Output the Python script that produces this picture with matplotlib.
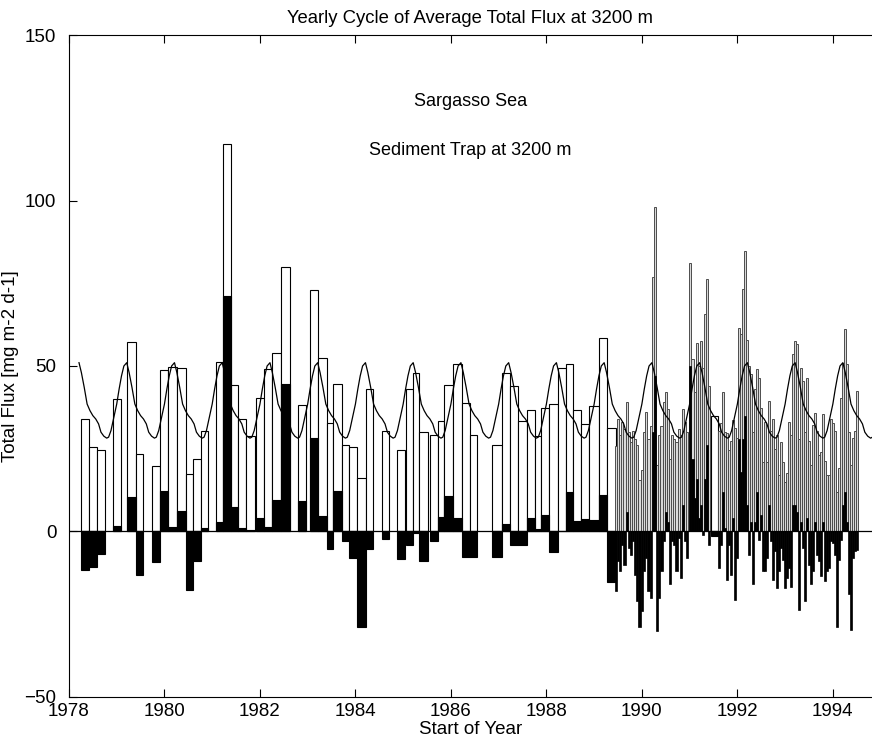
import matplotlib
matplotlib.use('Agg')
import matplotlib.pyplot as plt
import numpy as np

OUT_PNG = 'out.png'

#
# Two-month trap samples (open / close as decimal years), total flux and
# anomaly from the average yearly cycle, in mg m-2 d-1
#

long_open = [1978.245, 1978.419, 1978.580, 1978.915, 1979.208, 1979.403, 1979.744, 1979.906,
             1980.067, 1980.255, 1980.444, 1980.590, 1980.764, 1981.072, 1981.231, 1981.393,
             1981.546, 1981.707, 1981.910, 1982.084, 1982.258, 1982.433, 1982.802, 1983.047,
             1983.208, 1983.395, 1983.535, 1983.723, 1983.870, 1984.037, 1984.226, 1984.549,
             1984.862, 1985.051, 1985.210, 1985.330, 1985.560, 1985.722, 1985.853, 1986.048,
             1986.237, 1986.398, 1986.865, 1987.062, 1987.236, 1987.395, 1987.584, 1987.759,
             1987.878, 1988.058, 1988.233, 1988.401, 1988.560, 1988.721, 1988.896, 1989.099,
             1989.273, 1991.445]
long_close = [1978.419, 1978.580, 1978.754, 1979.089, 1979.403, 1979.556, 1979.906, 1980.067,
              1980.255, 1980.444, 1980.590, 1980.764, 1980.917, 1981.231, 1981.393, 1981.546,
              1981.707, 1981.895, 1982.084, 1982.258, 1982.433, 1982.628, 1982.955, 1983.208,
              1983.395, 1983.535, 1983.723, 1983.870, 1984.037, 1984.214, 1984.373, 1984.708,
              1985.036, 1985.210, 1985.330, 1985.525, 1985.722, 1985.853, 1986.035, 1986.237,
              1986.398, 1986.551, 1987.062, 1987.236, 1987.395, 1987.584, 1987.759, 1987.878,
              1988.058, 1988.233, 1988.401, 1988.560, 1988.721, 1988.896, 1989.099, 1989.273,
              1989.449, 1991.592]
long_flux = [34.1, 25.5, 24.5, 39.9, 57.2, 23.5, 19.9, 48.7,
             49.7, 49.5, 17.4, 22.0, 30.5, 51.3, 117.0, 44.4,
             34.0, 28.8, 40.4, 49.2, 54.0, 80.0, 38.2, 73.0,
             52.5, 32.7, 44.7, 26.0, 25.6, 16.2, 42.9, 30.5,
             24.7, 43.1, 48.0, 30.0, 29.0, 33.3, 44.2, 50.7,
             38.8, 29.3, 26.0, 48.0, 43.9, 33.5, 36.6, 28.8,
             37.4, 38.4, 49.5, 50.5, 36.6, 32.5, 37.8, 58.4,
             31.3, 34.8]
long_anomaly = [-11.6, -10.8, -6.8, 1.8, 10.3, -13.1, -9.3, 12.3,
                1.3, 6.1, -17.7, -8.8, 1.2, 3.0, 71.0, 7.3,
                1.0, 0.4, 4.2, 1.4, 9.5, 44.6, 9.1, 28.1,
                4.7, -5.3, 12.1, -3.0, -7.9, -28.8, -5.4, -2.2,
                -8.4, -4.0, -0.5, -8.8, -2.8, 4.5, 10.6, 4.0,
                -7.8, -7.6, -7.8, 2.2, -4.2, -4.2, 4.2, 0.7,
                5.1, -6.1, 0.2, 11.9, 3.2, 3.7, 3.5, 11.0,
                -15.2, -1.5]

#
# Short (~2 week) samples from mid 1989 on, centre of sample as decimal year
#

short_time = [1989.455, 1989.500, 1989.545, 1989.590, 1989.635, 1989.680, 1989.725, 1989.770,
              1989.815, 1989.860, 1989.905, 1989.950, 1989.995, 1990.040, 1990.085, 1990.140,
              1990.188, 1990.230, 1990.277, 1990.322, 1990.365, 1990.410, 1990.455, 1990.500,
              1990.545, 1990.590, 1990.635, 1990.680, 1990.725, 1990.770, 1990.815, 1990.860,
              1990.905, 1990.950, 1991.015, 1991.060, 1991.105, 1991.150, 1991.195, 1991.235,
              1991.277, 1991.319, 1991.361, 1991.403,
              1991.612, 1991.654, 1991.696, 1991.738, 1991.780, 1991.822, 1991.864, 1991.906,
              1991.948, 1991.990, 1992.031, 1992.073, 1992.115, 1992.157, 1992.199, 1992.241,
              1992.283, 1992.325, 1992.366, 1992.408, 1992.450, 1992.492, 1992.534, 1992.576,
              1992.618, 1992.660, 1992.701, 1992.743, 1992.785, 1992.827, 1992.869, 1992.911,
              1992.953, 1992.995, 1993.036, 1993.078, 1993.120, 1993.162, 1993.204, 1993.246,
              1993.288, 1993.329, 1993.371, 1993.413, 1993.455, 1993.497, 1993.539, 1993.581,
              1993.623, 1993.665, 1993.707, 1993.748, 1993.790, 1993.832, 1993.874, 1993.916,
              1993.958, 1994.000, 1994.042, 1994.084, 1994.126, 1994.168, 1994.209, 1994.251,
              1994.293, 1994.335, 1994.377, 1994.419, 1994.461, 1994.503]
short_flux = [25.8, 34.0, 29.0, 33.0, 31.0, 39.0, 30.0, 27.0,
              30.5, 27.8, 26.0, 15.7, 18.7, 30.0, 36.0, 28.0,
              32.0, 77.0, 98.0, 20.0, 29.0, 32.0, 39.0, 42.0,
              37.0, 22.0, 29.0, 28.0, 27.0, 31.0, 29.0, 37.0,
              33.0, 30.0, 81.0, 52.0, 42.0, 57.0, 50.0, 57.6,
              49.5, 65.7, 76.3, 44.0,
              30.3, 32.8, 42.0, 30.0, 29.8, 24.7, 27.3, 33.8,
              31.3, 28.3, 61.6, 59.6, 73.2, 84.8, 58.0, 50.0,
              47.5, 30.0, 43.0, 49.0, 46.5, 37.4, 21.0, 33.0,
              21.0, 39.4, 30.3, 34.0, 25.0, 29.0, 17.0, 27.0,
              21.0, 15.0, 17.7, 33.0, 29.0, 53.5, 57.4, 56.6,
              28.0, 49.5, 45.5, 30.0, 46.5, 27.3, 20.0, 32.3,
              35.9, 30.3, 23.2, 24.0, 35.4, 21.2, 17.0, 17.0,
              34.0, 32.8, 30.3, 12.0, 19.2, 40.4, 51.0, 61.1,
              50.5, 30.0, 20.0, 28.3, 30.3, 42.4]
short_anomaly = [-18.0, -9.0, -12.0, -4.0, -10.0, 6.0, -5.0, -7.0,
                 -3.0, -13.0, -21.0, -29.0, -24.0, -12.0, -8.0, -18.0,
                 -20.0, 30.0, 47.0, -30.0, -20.0, -12.0, -3.0, 6.0,
                 3.0, -16.0, -3.0, -4.0, -12.0, -2.0, -14.0, 8.0,
                 -3.0, -8.0, 50.0, 22.0, 10.0, 16.0, 4.0, 8.0,
                 -1.0, 16.0, 26.0, -4.0,
                 -11.0, -4.0, 12.0, 1.0, -14.6, -4.0, -13.0, 4.0,
                 -20.7, -8.0, 28.0, 18.0, 28.0, 35.0, 8.0, -7.0,
                 3.0, -16.0, 3.0, 12.0, -2.5, 5.0, -12.0, -12.0,
                 -8.0, 8.0, -3.0, -14.6, -6.0, -17.0, -12.0, -5.0,
                 -8.6, -17.0, -14.0, -11.0, -16.7, 8.0, 8.0, 6.0,
                 -23.7, 3.0, -5.0, -21.0, 4.0, -10.0, -16.0, -12.0,
                 3.0, -7.0, -9.0, -13.6, 3.0, -15.0, -12.0, -11.0,
                 -3.0, -3.5, -7.0, -29.0, -8.6, -2.5, 8.0, 12.0,
                 3.0, -19.0, -29.8, -8.0, -6.0, -5.6]

#
# Average yearly cycle (fraction of year -> flux), repeated every year
#

cycle_phase = [0.00, 0.05, 0.10, 0.15, 0.21, 0.26, 0.32, 0.38, 0.44,
               0.50, 0.56, 0.62, 0.67, 0.73, 0.79, 0.83, 0.88, 0.94]
cycle_flux = [38.5, 43.0, 47.0, 50.0, 51.0, 48.0, 43.5, 38.5, 36.5,
              35.0, 34.0, 32.5, 30.0, 28.8, 28.2, 28.5, 30.5, 34.5]
cycle_years = list(range(1978, 1995))

plt.rcParams['font.family'] = ['Liberation Sans', 'DejaVu Sans']

fig = plt.figure(figsize=(8.72, 7.42), dpi=100)
ax = fig.add_axes([0.0791, 0.0607, 0.9209, 0.8921])

#
# Bars: white = total flux, black = anomaly from the yearly cycle
#

long_width = np.array(long_close) - np.array(long_open)
ax.bar(long_open, long_flux, width=long_width, align='edge',
       color='white', edgecolor='black', linewidth=0.8, zorder=2)
ax.bar(long_open, long_anomaly, width=long_width, align='edge',
       color='black', edgecolor='black', linewidth=0.8, zorder=3)

ax.bar(short_time, short_flux, width=0.045,
       color='0.85', edgecolor='0.3', linewidth=0.7, zorder=2)
ax.bar(short_time, short_anomaly, width=0.045,
       color='black', edgecolor='black', linewidth=0.5, zorder=3)

#
# Yearly cycle curve on top of the bars
#

line_t = np.concatenate([year + np.array(cycle_phase) for year in cycle_years])
line_v = np.tile(cycle_flux, len(cycle_years))
keep = (line_t >= 1978.2) & (line_t <= 1994.85)
ax.plot(line_t[keep], line_v[keep], color='black', linewidth=0.9, zorder=4)

ax.axhline(0, color='black', linewidth=0.9, zorder=4)

ax.set_xlim(1978, 1994.82)
ax.set_ylim(-50, 150)
ax.set_xticks(range(1978, 1995, 2))
ax.set_yticks([-50, 0, 50, 100, 150])
ax.tick_params(axis='both', direction='in', top=True, right=False, length=6,
               width=0.8, labelsize=13.5)
ax.tick_params(axis='x', pad=4)
ax.tick_params(axis='y', pad=9)
ax.spines['right'].set_visible(False)

ax.set_title('Yearly Cycle of Average Total Flux at 3200 m', fontsize=13.3, pad=9)
ax.set_xlabel('Start of Year', fontsize=13.5, labelpad=1)
ax.set_ylabel('Total Flux [mg m-2 d-1]', fontsize=13.5, labelpad=4)

ax.text(0.5, 130, 'Sargasso Sea', transform=ax.get_yaxis_transform(),
        ha='center', va='center', fontsize=13)
ax.text(0.5, 115, 'Sediment Trap at 3200 m', transform=ax.get_yaxis_transform(),
        ha='center', va='center', fontsize=13)

fig.savefig(OUT_PNG, dpi=100)
